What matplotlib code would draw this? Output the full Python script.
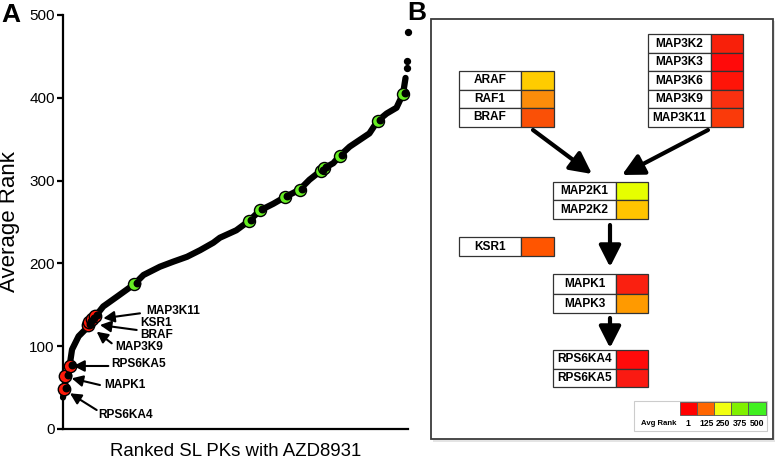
import matplotlib.pyplot as plt
from matplotlib.patches import Rectangle
import matplotlib.transforms as mtransforms

plt.rcParams['font.family'] = ['Liberation Sans', 'DejaVu Sans']

# Panel A: ranked kinases (position along the ranked list, average rank)
curve_x = [0, 1.6, 4, 8, 11, 19, 33, 37, 41, 49, 66, 87, 98, 118, 134, 151, 167, 183,
           191, 211, 226, 240, 256, 270, 288, 300, 314, 318, 329, 337, 349, 361, 373,
           383, 394, 406, 414, 417]
curve_y = [38, 48, 64, 76, 96, 112, 126, 132, 138, 148, 160, 175, 186, 196, 202, 208, 216, 225,
           231, 240, 251, 264, 272, 280, 289, 301, 312, 315, 321, 330, 341, 349, 357,
           372, 381, 388, 405, 424]
top_x = [419, 419, 420]
top_y = [436, 444, 479]

red_x = [1, 3, 8, 30, 32, 35, 39]
red_y = [48, 64, 76, 126, 129, 133, 137]
green_x = [87, 226, 240, 270, 288, 314, 318, 337, 383, 414]
green_y = [175, 251, 264, 280, 289, 312, 315, 330, 372, 405]

# Panel B: pathway heat cells
raf_genes = ["ARAF", "RAF1", "BRAF"]
raf_colors = ["#ffcc00", "#fb8c0a", "#fa5006"]
map3k_genes = ["MAP3K2", "MAP3K3", "MAP3K6", "MAP3K9", "MAP3K11"]
map3k_colors = ["#f8200a", "#ff0a0a", "#ff1408", "#fa3010", "#fa3a0a"]
map2k_genes = ["MAP2K1", "MAP2K2"]
map2k_colors = ["#e6ff00", "#ffc400"]
ksr_genes = ["KSR1"]
ksr_colors = ["#ff5500"]
mapk_genes = ["MAPK1", "MAPK3"]
mapk_colors = ["#fa2010", "#ff9a00"]
rsk_genes = ["RPS6KA4", "RPS6KA5"]
rsk_colors = ["#ff0a0a", "#fa1a12"]
legend_ranks = [1, 125, 250, 375, 500]
legend_colors = ["#ff0000", "#ff6600", "#f2ff10", "#80f000", "#40f020"]

fig = plt.figure(figsize=(7.77, 4.62), dpi=100)

# ---------------- Panel A ----------------
ax = fig.add_axes([63 / 777, 33 / 462, 345 / 777, 414 / 462])
ax.plot(curve_x, curve_y, color="black", lw=4.5, solid_capstyle="round",
        solid_joinstyle="round", zorder=2, clip_on=False)
ax.scatter(top_x, top_y, s=18, color="black", zorder=2, clip_on=False)

shift = mtransforms.offset_copy(ax.transData, fig=fig, x=2.2, y=1.0, units="dots")
ax.scatter(red_x, red_y, s=80, color="#ff1a0a", edgecolor="black", lw=1.0, zorder=3, clip_on=False)
ax.scatter(red_x, red_y, s=22, color="black", zorder=4, clip_on=False, transform=shift)
ax.scatter(green_x, green_y, s=75, color="#66ee22", edgecolor="black", lw=1.0, zorder=3, clip_on=False)
ax.scatter(green_x, green_y, s=22, color="black", zorder=4, clip_on=False, transform=shift)

ax.set_xlim(0, 420)
ax.set_ylim(0, 500)
ax.set_yticks([0, 100, 200, 300, 400, 500])
ax.set_xticks([])
for side in ["top", "right"]:
    ax.spines[side].set_visible(False)
for side in ["left", "bottom"]:
    ax.spines[side].set_linewidth(1.6)
ax.tick_params(axis="y", length=4, width=1.6, labelsize=11, pad=2)
ax.set_ylabel("Average Rank", fontsize=16)
ax.yaxis.set_label_coords(-0.125, 0.5)
ax.set_xlabel("Ranked SL PKs with AZD8931", fontsize=13.4)
ax.xaxis.set_label_coords(0.5, -0.035)

labels = [("MAP3K11", 101.9, 142.5), ("KSR1", 93.7, 128.4), ("BRAF", 93.7, 114.0),
          ("MAP3K9", 63.3, 98.5), ("RPS6KA5", 58.4, 78.1), ("MAPK1", 50.3, 53.1),
          ("RPS6KA4", 43, 16.9)]
for name, tx, ty in labels:
    ax.text(tx, ty, name, fontsize=8.6, fontweight="bold", ha="left", va="center")
arrows = [((93.7, 139.7), (49.1, 133.7)), ((89.7, 119.6), (45.0, 125.6)),
          ((59.3, 103.5), (41.0, 117.5)), ((55.2, 76.1), (12.6, 76.1)),
          ((45, 53.1), (10.6, 61.2)), ((41, 22.9), (8.5, 43.1))]
for tail, tip in arrows:
    ax.annotate("", xy=tip, xytext=tail,
                arrowprops=dict(arrowstyle="-|>,head_length=0.55,head_width=0.28",
                                color="black", lw=1.5, mutation_scale=12,
                                shrinkA=0, shrinkB=0))

# ---------------- Panel B ----------------
axb = fig.add_axes([0, 0, 1, 1], zorder=-1)
axb.set_xlim(0, 777)
axb.set_ylim(462, 0)
axb.axis("off")

axb.add_patch(Rectangle((433, 21), 342, 421, fc="#e4e4e4", ec="none", zorder=0))
axb.add_patch(Rectangle((431, 19), 342, 420, fc="white", ec="#3c3c3c", lw=1.3, zorder=1))


def draw_group(x0, y0, genes, colors, rh, wl=63, wc=32):
    for i, (g, c) in enumerate(zip(genes, colors)):
        y = y0 + i * rh
        axb.add_patch(Rectangle((x0, y), wl, rh, fc="white", ec="#333333", lw=0.9, zorder=2))
        axb.add_patch(Rectangle((x0 + wl, y), wc, rh, fc=c, ec="#333333", lw=0.9, zorder=2))
        axb.text(x0 + wl / 2, y + rh / 2, g, fontsize=8.6, fontweight="bold",
                 ha="center", va="center", zorder=3)


draw_group(459, 71, raf_genes, raf_colors, 18.6, wl=62, wc=33)
draw_group(648, 34.3, map3k_genes, map3k_colors, 18.5, wl=63, wc=32)
draw_group(553, 181.7, map2k_genes, map2k_colors, 18.7)
draw_group(459, 237.3, ksr_genes, ksr_colors, 18.7, wl=62, wc=33)
draw_group(553, 274.3, mapk_genes, mapk_colors, 19.5)
draw_group(553, 350, rsk_genes, rsk_colors, 18.7)

b_arrows = [((533, 130), (592, 174)), ((708, 130), (622, 175)),
            ((610, 225), (610, 267)), ((610, 318), (610, 348))]
for tail, tip in b_arrows:
    axb.annotate("", xy=tip, xytext=tail,
                 arrowprops=dict(arrowstyle="-|>,head_length=0.65,head_width=0.33",
                                 color="black", lw=3.0, mutation_scale=20,
                                 shrinkA=0, shrinkB=0), zorder=3)

# colour legend
axb.add_patch(Rectangle((634, 401), 133, 30, fc="white", ec="#cccccc", lw=0.8, zorder=2))
cell_w = 17.1
for i, c in enumerate(legend_colors):
    axb.add_patch(Rectangle((680 + i * cell_w, 401.7), cell_w, 13.3, fc=c,
                            ec="#555555", lw=0.6, zorder=3))
axb.text(659, 423.5, "Avg Rank", fontsize=5.6, fontweight="bold", ha="center", va="center", zorder=3)
for r, lx in zip(legend_ranks, [688.3, 706.7, 723, 739.7, 757]):
    axb.text(lx, 423.5, str(r), fontsize=6.2, fontweight="bold", ha="center", va="center", zorder=3)

fig.text(1 / 777, 1 - 22 / 462, "A", fontsize=19, fontweight="bold", va="baseline")
fig.text(407 / 777, 1 - 20 / 462, "B", fontsize=19, fontweight="bold", va="baseline")

fig.savefig("out.png", dpi=100)
